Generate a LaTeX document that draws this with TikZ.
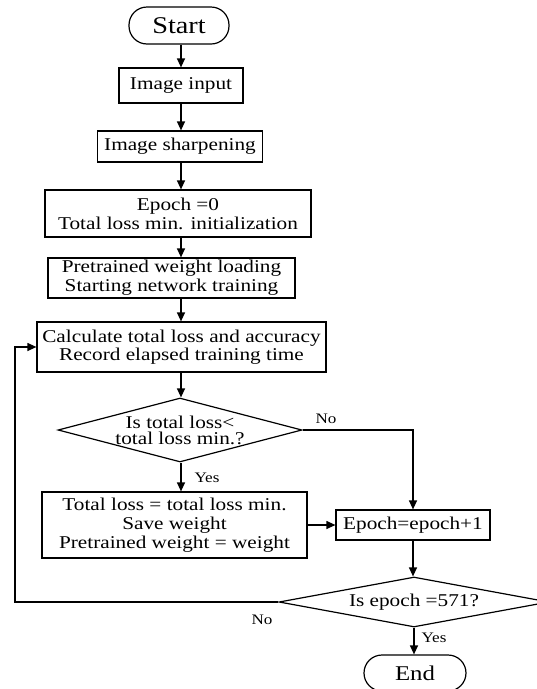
\documentclass[tikz,border=0pt]{standalone}
\usepackage{fontspec}
\setmainfont{Liberation Serif}[FakeStretch=1.18]
\usetikzlibrary{shapes.geometric,arrows.meta}

\tikzset{
    box/.style={draw, line width=1.2pt, fill=white, align=center, inner sep=0pt, font=\fontsize{18}{19}\selectfont},
    term/.style={box, rounded corners=18pt},
    decision/.style={draw, line width=1.2pt, diamond, aspect=3.8, inner sep=-5pt, align=center, font=\fontsize{18}{16}\selectfont},
    arr/.style={line width=1.2pt, -{Triangle[length=9pt,width=8pt]}},
    tag/.style={inner sep=0pt, font=\fontsize{14.5}{15}\selectfont},
}

\begin{document}
\begin{tikzpicture}[x=1pt, y=-1pt]
        \fill[white] (0,0) rectangle (537,689);
        \useasboundingbox (0,0) rectangle (537,689);
        \coordinate (axis) at (181,0);

        \node[term, minimum width=100, minimum height=37, font=\fontsize{24}{26}\selectfont] (start) at (179,25.5) {Start};
        \node[box, minimum width=124, minimum height=35] (input) at (181,85.5) {Image input};
        \node[box, minimum width=165, minimum height=31] (sharp) at (180,146.5) {Image sharpening};
        \node[box, minimum width=266, minimum height=47] (init) at (178,213.5) {Epoch =0\\ Total loss min. initialization};
        \node[box, minimum width=247, minimum height=40] (load) at (171.5,278) {Pretrained weight loading\\Starting network training};
        \node[box, minimum width=289, minimum height=50, font=\fontsize{18}{18}\selectfont] (calc) at (181.5,347) {Calculate total loss and accuracy\\Record elapsed training time};
        \node[decision, minimum width=244, minimum height=64] (test) at (180,430) {Is total loss<\\total loss min.?};
        \node[box, minimum width=265, minimum height=66] (save) at (174.5,525) {Total loss = total loss min.\\Save weight\\ Pretrained weight = weight};
        \node[box, minimum width=154, minimum height=30] (epoch) at (413,525) {Epoch=epoch+1};
        \node[decision, minimum width=270, minimum height=50] (check) at (414,602) {Is epoch =571?};
        \node[term, minimum width=102, minimum height=36, font=\fontsize{21}{23}\selectfont] (stop) at (415,673) {End};

        \draw[arr] (start.south -| axis) -- (input.north -| axis);
        \draw[arr] (input.south -| axis) -- (sharp.north -| axis);
        \draw[arr] (sharp.south -| axis) -- (init.north -| axis);
        \draw[arr] (init.south -| axis) -- (load.north -| axis);
        \draw[arr] (load.south -| axis) -- (calc.north -| axis);
        \draw[arr] (calc.south -| axis) -- (test.north -| axis);
        \draw[arr] (test.south -| axis) -- (save.north -| axis);
        \node[tag] (yes1) at (207,478) {Yes};
        \draw[arr] (test.east) -| (epoch.north);
        \node[tag] (no1) at (326,419) {No};
        \draw[arr] (save.east) -- (epoch.west);
        \draw[arr] (epoch.south) -- (epoch.south |- check.north);
        \draw[arr] (check.south) -- (check.south |- stop.north);
        \node[tag] (yes2) at (434,638) {Yes};
        % 回到计算步骤
        \coordinate (back) at (15,602);
        \draw[arr] (check.west) -- (back) |- (calc.west);
        \node[tag] (no2) at (262,620) {No};
    \end{tikzpicture}
\end{document}
